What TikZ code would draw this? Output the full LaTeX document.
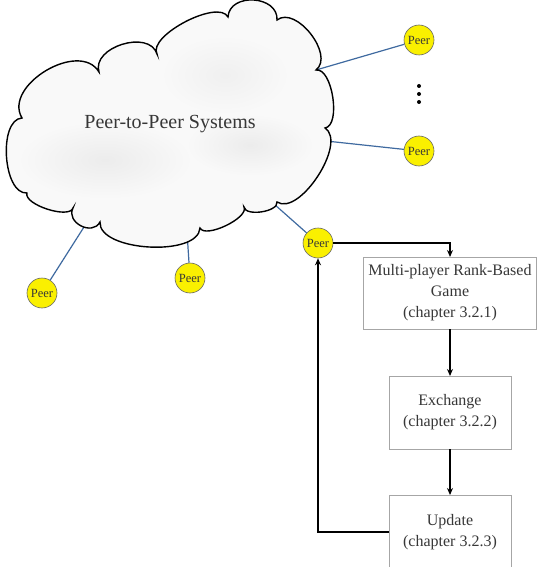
\documentclass[tikz,border=0pt]{standalone}
\usepackage{fontspec}
\setmainfont{Liberation Serif}
\usetikzlibrary{arrows.meta}
\definecolor{linkblue}{RGB}{63,106,160}
\definecolor{peeryellow}{RGB}{250,240,0}
\definecolor{txt}{RGB}{55,55,55}
\tikzset{
  peer/.style={circle, draw=gray!80!black, line width=0.6pt, fill=peeryellow, minimum size=30pt, inner sep=0pt, font=\fontsize{12.5}{12.5}\selectfont, text=txt},
  link/.style={draw=linkblue, line width=1.2pt},
  stepbox/.style={draw=gray!70, line width=0.9pt, fill=white, inner sep=0pt, outer sep=0pt, align=center, text=txt, font=\fontsize{16}{21}\selectfont},
  flow/.style={draw=black, line width=1.5pt, -{Stealth[length=7pt,width=6pt]}},
  bump/.style={bend left=90, looseness=#1}
}
\begin{document}
\begin{tikzpicture}[x=1pt,y=-1pt]
\useasboundingbox (0,0) rectangle (538,567);
% peers
\node[peer] (pa) at (419,40) {Peer};
\node[peer] (pb) at (419,151) {Peer};
\node[peer] (pc) at (318,243) {Peer};
\node[peer] (pd) at (42,293) {Peer};
\node[peer] (pe) at (190,278) {Peer};
% attachment points on the cloud
\coordinate (c1) at (316,70);
\coordinate (c2) at (326,141);
\coordinate (c3) at (274,204);
\coordinate (c4) at (84,227);
\coordinate (c5) at (187,232);
\draw[link] (c1) -- (pa);
\draw[link] (c2) -- (pb);
\draw[link] (c3) -- (pc);
\draw[link] (c4) -- (pd);
\draw[link] (c5) -- (pe);
% cloud
\draw[line width=1.4pt, fill=gray!5]
  (27,193) to[bump=0.82] (22,118)
  to[bump=1.08] (99,72)
  to[bump=1.1] (157,54)
  to[bump=0.66] (228,17)
  to[bump=1.29] (277,20)
  to[bump=0.97] (316,70)
  to[bump=0.72] (325,128)
  to[bump=0.78] (277,202)
  to[bump=0.76] (244,207)
  to[bump=0.63] (200,228)
  to[bump=0.75] (100,222)
  to[bump=1.37] (73,208)
  to[bump=0.64] cycle;
\shade[inner color=gray!15, outer color=gray!5] (105,160) ellipse (85 and 38);
\shade[inner color=gray!15, outer color=gray!5] (250,145) ellipse (62 and 30);
\shade[inner color=gray!12, outer color=gray!5] (225,75) ellipse (62 and 38);
\node[text=txt, font=\fontsize{20}{20}\selectfont] (title) at (170,124) {Peer-to-Peer Systems};
% dots
\fill (419,86) circle (2);
\fill (419,94) circle (2);
\fill (419,102) circle (2);
% flow boxes
\node[stepbox, minimum width=173pt, minimum height=72pt] (b1) at (450,293) {Multi-player Rank-Based\\Game\\(chapter 3.2.1)};
\node[stepbox, minimum width=122pt, minimum height=73pt] (b2) at (450,412.5) {Exchange\\(chapter 3.2.2)};
\node[stepbox, minimum width=122pt, minimum height=74pt] (b3) at (450,532) {Update\\(chapter 3.2.3)};
\draw[flow] (pc.east) -| (b1.north);
\draw[flow] (b1.south) -- (b1.south |- b2.north);
\draw[flow] (b2.south) -- (b2.south |- b3.north);
\draw[flow] (b3.west) -| (pc.south);
\end{tikzpicture}
\end{document}
